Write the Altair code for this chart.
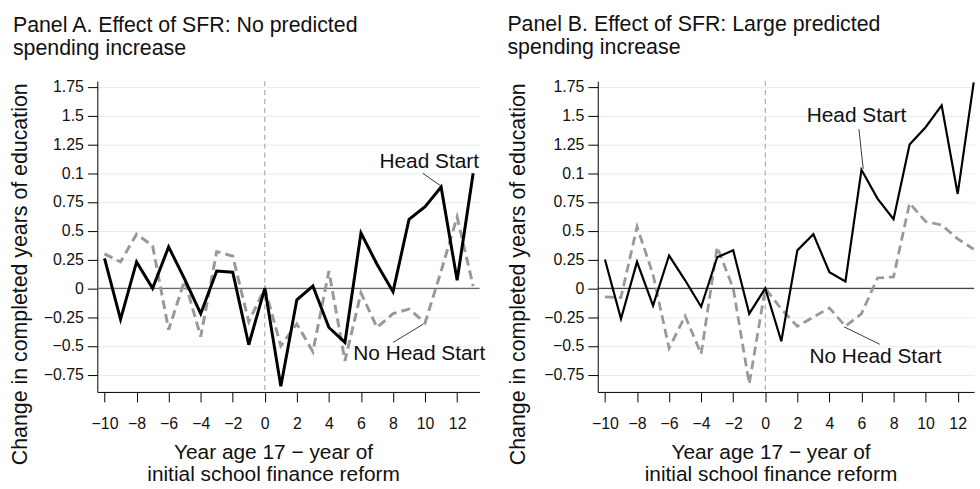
import altair as alt
import pandas as pd

# ---------------- data ----------------
years = list(range(-10, 14))

a_head = [0.26, -0.27, 0.23, 0.00, 0.36, 0.08, -0.22, 0.15, 0.14, -0.49, 0.00, -0.85,
          -0.10, 0.02, -0.34, -0.47, 0.48, 0.21, -0.03, 0.60, 0.71, 0.88, 0.07, 1.00]
a_nohead = [0.30, 0.23, 0.47, 0.37, -0.36, 0.07, -0.42, 0.32, 0.28, -0.29, 0.00, -0.50,
            -0.31, -0.55, 0.15, -0.63, -0.04, -0.34, -0.22, -0.18, -0.30, 0.15, 0.62, 0.02]

b_head = [0.25, -0.265, 0.23, -0.15, 0.285, 0.07, -0.16, 0.27, 0.33, -0.22, 0.00, -0.46,
          0.33, 0.47, 0.14, 0.06, 1.03, 0.78, 0.60, 1.25, 1.40, 1.59, 0.82, 1.79]
b_nohead = [-0.075, -0.08, 0.535, 0.12, -0.52, -0.24, -0.57, 0.36, 0.00, -0.83, 0.00, -0.18,
            -0.33, -0.25, -0.17, -0.33, -0.22, 0.09, 0.10, 0.74, 0.58, 0.55, 0.43, 0.34]

y_ticks = [-0.75, -0.5, -0.25, 0, 0.25, 0.5, 0.75, 1, 1.25, 1.5, 1.75]
x_ticks = list(range(-10, 13, 2))

title_a = ["Panel A. Effect of SFR: No predicted", "spending increase"]
title_b = ["Panel B. Effect of SFR: Large predicted", "spending increase"]
y_title = "Change in completed years of education"
x_title = ["Year age 17 \u2212 year of", "initial school finance reform"]

# annotation labels (data coordinates) and leader lines
a_labels = ["Head Start", "No Head Start"]
a_label_x = [10.26, 9.64]
a_label_y = [1.10, -0.573]
a_lead_x = [9.85, 8.0]
a_lead_y = [1.00, -0.47]
a_lead_x2 = [10.98, 9.9]
a_lead_y2 = [0.89, -0.31]

b_labels = ["Head Start", "No Head Start"]
b_label_x = [5.69, 6.87]
b_label_y = [1.50, -0.60]
b_lead_x = [5.84, 7.14]
b_lead_y = [1.383, -0.486]
b_lead_x2 = [6.11, 4.91]
b_lead_y2 = [1.038, -0.334]

FONT = "Liberation Sans"
Y_DOMAIN = [-0.9, 1.8]


def panel(head, nohead, title, title_dx, width, x_dom, ytitle_x, xtitle_x,
          labels, lx, ly, ldx, ldy, ldx2, ldy2, lw_head, lw_nohead, zero_color):
    df_h = pd.DataFrame({"x": years, "y": head})
    df_n = pd.DataFrame({"x": years, "y": nohead})
    xs = alt.Scale(domain=x_dom, nice=False, zero=False)
    ys = alt.Scale(domain=Y_DOMAIN, nice=False, zero=False)
    xaxis = alt.Axis(values=x_ticks, format="d", title=x_title, grid=False,
                     domainColor="#000", tickColor="#000", tickSize=10,
                     labelFontSize=16, labelFont=FONT, labelColor="#111", labelPadding=14,
                     titleFont=FONT, titleFontSize=21, titleFontWeight="normal",
                     titleColor="#111", titleX=xtitle_x, titleY=67,
                     titleBaseline="alphabetic", titleAlign="center", titleLineHeight=22,
                     labelFlush=False, labelOverlap=False)
    yaxis = alt.Axis(values=y_ticks, format=".2~f",
                     labelExpr="datum.value == 1 ? '0.1' : datum.label",
                     title=y_title, grid=True, gridColor="#e3eded", gridWidth=1,
                     domainColor="#000", tickColor="#000", tickSize=10,
                     labelFontSize=16, labelFont=FONT, labelColor="#111", labelPadding=4,
                     titleFont=FONT, titleFontSize=21.5, titleFontWeight="normal",
                     titleColor="#111", titleX=ytitle_x, titleY=194, titleAngle=270,
                     titleBaseline="alphabetic", titleAlign="center",
                     labelFlush=False, labelOverlap=False)
    X = alt.X("x:Q", scale=xs, axis=xaxis)
    Y = alt.Y("y:Q", scale=ys, axis=yaxis)

    zero = alt.Chart(pd.DataFrame({"y": [0]})).mark_rule(
        color=zero_color, strokeWidth=1.2).encode(y=Y)
    vline = alt.Chart(pd.DataFrame({"x": [0]})).mark_rule(
        color="#9a9a9a", strokeWidth=1, strokeDash=[5, 4]).encode(x=X)
    l_n = alt.Chart(df_n).mark_line(color="#999999", strokeWidth=lw_nohead,
                                    strokeDash=[9, 5]).encode(x=X, y=Y)
    l_h = alt.Chart(df_h).mark_line(color="#000000", strokeWidth=lw_head).encode(x=X, y=Y)
    lead_df = pd.DataFrame({"x": ldx, "y": ldy, "x2": ldx2, "y2": ldy2})
    leads = alt.Chart(lead_df).mark_rule(color="#222", strokeWidth=0.9).encode(
        x=X, y=Y, x2="x2:Q", y2="y2:Q")
    lab_df = pd.DataFrame({"x": lx, "y": ly, "t": labels})
    labs = alt.Chart(lab_df).mark_text(font=FONT, fontSize=21, color="#111",
                                       align="center", baseline="middle").encode(
        x=X, y=Y, text="t:N")
    return alt.layer(zero, vline, l_n, l_h, leads, labs).properties(
        width=width, height=313,
        title=alt.TitleParams(text=title, anchor="start", frame="group", dx=title_dx,
                              font=FONT, fontSize=21.5, fontWeight="normal", color="#111",
                              lineHeight=23, offset=20))


left = panel(a_head, a_nohead, title_a, -85, 385, [-10.45, 13.4], -71, 177,
             a_labels, a_label_x, a_label_y, a_lead_x, a_lead_y, a_lead_x2, a_lead_y2,
             3, 3, "#6a6a6a")
right = panel(b_head, b_nohead, title_b, -91, 379, [-10.45, 13.02], -74, 174,
              b_labels, b_label_x, b_label_y, b_lead_x, b_lead_y, b_lead_x2, b_lead_y2,
              2.2, 2.8, "#444444")

chart = alt.hconcat(left, right, spacing=119, bounds="flush").properties(
    padding={"left": 9, "top": 12, "right": 0, "bottom": 0},
    background="white",
).configure_view(stroke=None)

chart.save("out.html", embed_options={"renderer": "svg", "actions": False})
